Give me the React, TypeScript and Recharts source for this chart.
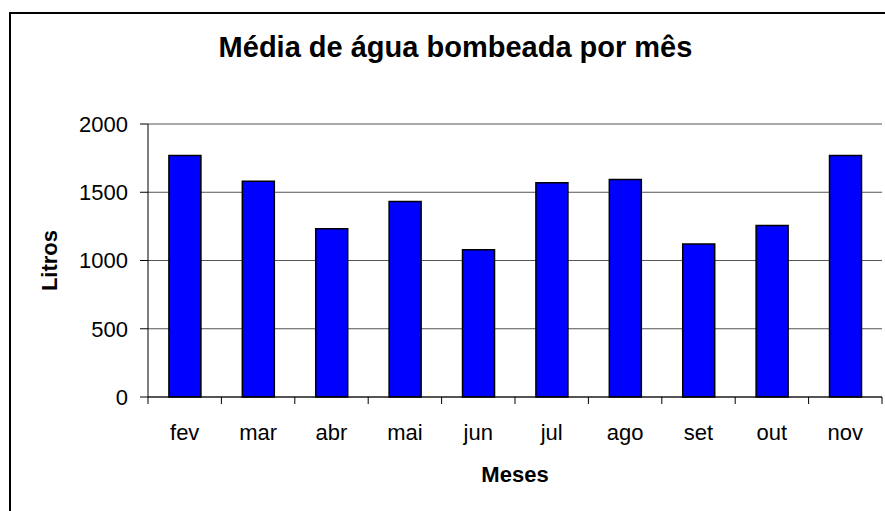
import React from 'react';
import { BarChart, Bar, XAxis, YAxis, CartesianGrid } from 'recharts';

const months = ['fev', 'mar', 'abr', 'mai', 'jun', 'jul', 'ago', 'set', 'out', 'nov'];
const litros = [1770, 1580, 1233, 1433, 1079, 1570, 1594, 1121, 1257, 1770];
const yTicks = [0, 500, 1000, 1500, 2000];
const titleText = 'Média de água bombeada por mês';
const xTitle = 'Meses';
const yTitle = 'Litros';

const data = months.map((m, i) => ({ mes: m, idx: i + 0.5, litros: litros[i] }));
const boundaryTicks: number[] = [];
for (let i = 0; i <= months.length; i++) {
  boundaryTicks.push(i);
  if (i < months.length) boundaryTicks.push(i + 0.5);
}

const FONT = "Arial, 'Liberation Sans', sans-serif";

const XTick = (props: any) => {
  const { x, y, payload } = props;
  const v = payload.value as number;
  if (Number.isInteger(v)) {
    return <line x1={x} x2={x} y1={y} y2={y + 7} stroke="#000" strokeWidth={1} />;
  }
  return (
    <text x={x} y={y + 42.5} textAnchor="middle" fontSize={22} fontFamily={FONT} fill="#000">
      {months[Math.floor(v)]}
    </text>
  );
};

export default function App() {
  return (
    <div style={{ position: 'absolute', left: 0, top: 0, width: 885, height: 511, overflow: 'hidden', background: '#fff' }}>
      <div style={{ position: 'absolute', left: 9, top: 12, width: 900, height: 520, border: '2px solid #000', boxSizing: 'border-box' }} />
      <svg style={{ position: 'absolute', left: 0, top: 0 }} width={885} height={80}>
        <text x={455.5} y={56.7} textAnchor="middle" fontSize={29} fontWeight="bold" fontFamily={FONT} fill="#000">
          {titleText}
        </text>
      </svg>
      <div style={{ position: 'absolute', left: 0, top: 0 }}>
        <BarChart
          width={885}
          height={511}
          data={data}
          margin={{ top: 124, right: 3, left: 48, bottom: 0 }}
          barCategoryGap="28.5%"
        >
          <CartesianGrid vertical={false} stroke="#555" strokeWidth={1} />
          <XAxis xAxisId="cat" dataKey="mes" hide />
          <XAxis
            type="number"
            dataKey="idx"
            domain={[0, months.length]}
            ticks={boundaryTicks}
            interval={0}
            tickSize={0}
            tickMargin={0}
            tickLine={false}
            height={114}
            axisLine={{ stroke: '#000', strokeWidth: 1 }}
            tick={<XTick />}
            label={{
              content: (p: any) => {
                const vb = p.viewBox;
                return (
                  <text x={vb.x + vb.width / 2} y={vb.y + 84.7} textAnchor="middle" fontSize={22} fontWeight="bold" fontFamily={FONT} fill="#000">
                    {xTitle}
                  </text>
                );
              },
            }}
          />
          <YAxis
            width={100}
            domain={[0, 2000]}
            ticks={yTicks}
            interval={0}
            tickSize={8}
            tickMargin={12}
            axisLine={{ stroke: '#000', strokeWidth: 1 }}
            tickLine={{ stroke: '#000', strokeWidth: 1 }}
            tick={{ fontSize: 22, fontFamily: FONT, fill: '#000' }}
            label={{
              content: (p: any) => {
                const vb = p.viewBox;
                const cx = vb.x + 9.3;
                const cy = vb.y + vb.height / 2;
                return (
                  <text x={cx} y={cy} transform={`rotate(-90, ${cx}, ${cy})`} textAnchor="middle" fontSize={22} fontWeight="bold" fontFamily={FONT} fill="#000">
                    {yTitle}
                  </text>
                );
              },
            }}
          />
          <YAxis
            yAxisId="right"
            orientation="right"
            width={0}
            domain={[0, 2000]}
            tick={false}
            tickLine={false}
            axisLine={{ stroke: '#888', strokeWidth: 1 }}
          />
          <Bar xAxisId="cat" dataKey="litros" fill="#0000FF" stroke="#000" strokeWidth={1.5} isAnimationActive={false} />
        </BarChart>
      </div>
    </div>
  );
}
